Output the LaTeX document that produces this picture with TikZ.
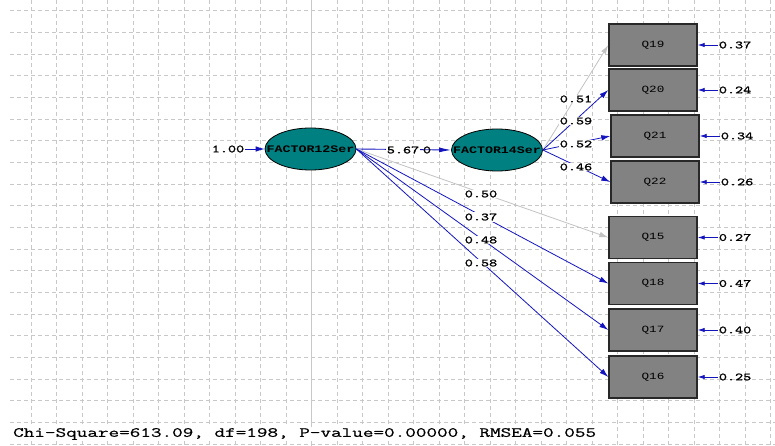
\documentclass[tikz,border=0pt]{standalone}
\usepackage{fontspec}
\usetikzlibrary{shapes.geometric,arrows.meta,positioning}
\newfontfamily\lisfont[FakeStretch=1.33]{Liberation Mono}
\newfontfamily\coeffont[FakeStretch=1.4,FakeBold=1.5]{Latin Modern Mono}
\newfontfamily\statfont[FakeStretch=1.47,FakeBold=0.8]{Latin Modern Mono}
\definecolor{listeal}{RGB}{0,128,128}
\definecolor{boxgray}{RGB}{130,130,130}
\definecolor{boxline}{RGB}{40,40,40}
\definecolor{pathblue}{RGB}{20,20,190}
\definecolor{pathgray}{RGB}{195,195,195}
\definecolor{gridgray}{RGB}{200,200,200}

\begin{document}
\begin{tikzpicture}[x=1pt,y=-1pt,
  gridline/.style={draw=gridgray,line width=0.6pt,dash pattern=on 4pt off 3pt},
  latent/.style={ellipse,draw=black,line width=0.8pt,fill=listeal,
    minimum width=91pt,minimum height=42pt,inner sep=0pt},
  latentlab/.style={inner sep=0pt,font=\lisfont\bfseries\fontsize{10}{12}\selectfont},
  observed/.style={rectangle,draw=boxline,line width=1.4pt,fill=boxgray,
    minimum width=88pt,minimum height=42pt,inner sep=0pt,
    font=\lisfont\fontsize{9.5}{11}\selectfont},
  loading/.style={draw=pathblue,line width=0.8pt,-{Latex[length=9pt,width=5.5pt]}},
  greyloading/.style={loading,draw=pathgray},
  errarrow/.style={draw=pathblue,line width=0.9pt,-{Latex[length=7pt,width=4.5pt]}},
  coef/.style={fill=white,inner sep=1pt,font=\coeffont\fontsize{11}{12}\selectfont},
  errlab/.style={inner sep=1pt,font=\coeffont\fontsize{11}{12}\selectfont},
  stat/.style={fill=white,inner sep=1pt,font=\statfont\fontsize{14}{16}\selectfont}]
\useasboundingbox (0,0) rectangle (775,446);
\fill[white] (0,0) rectangle (775,446);
% background grid
\foreach \gx in {0,...,29}
  \draw[gridline] ({31+25.5*\gx},0) -- ({31+25.5*\gx},446);
\foreach \gy in {0,...,20}
  \draw[gridline] (10,{10.7+21.67*\gy}) -- (775,{10.7+21.67*\gy});
\draw[draw=gridgray,line width=0.8pt] (311.5,0) -- (311.5,446);
% latent variables
\node[latent] (f12) at (310.5,149) {};
\node[latent] (f14) at (497,150) {};
% observed variables
\node[observed] (Q19) at (653,45) {Q19};
\node[observed] (Q20) at (653,90) {Q20};
\node[observed] (Q21) at (655,136) {Q21};
\node[observed] (Q22) at (655,182) {Q22};
\node[observed] (Q15) at (653,237.5) {Q15};
\node[observed] (Q18) at (653,283.5) {Q18};
\node[observed] (Q17) at (653,330) {Q17};
\node[observed] (Q16) at (653,377) {Q16};
% error variances
\node[errlab,right=20pt of Q19] (e19) {0.37};
\node[errlab,right=20pt of Q20] (e20) {0.24};
\node[errlab,right=20pt of Q21] (e21) {0.34};
\node[errlab,right=20pt of Q22] (e22) {0.26};
\node[errlab,right=20pt of Q15] (e15) {0.27};
\node[errlab,right=20pt of Q18] (e18) {0.47};
\node[errlab,right=20pt of Q17] (e17) {0.40};
\node[errlab,right=20pt of Q16] (e16) {0.25};
\draw[errarrow] (e19.west) -- (Q19.east);
\draw[errarrow] (e20.west) -- (Q20.east);
\draw[errarrow] (e21.west) -- (Q21.east);
\draw[errarrow] (e22.west) -- (Q22.east);
\draw[errarrow] (e15.west) -- (Q15.east);
\draw[errarrow] (e18.west) -- (Q18.east);
\draw[errarrow] (e17.west) -- (Q17.east);
\draw[errarrow] (e16.west) -- (Q16.east);
% paths
\node[coef] (v12) at (228,149) {1.00};
\draw[loading] (v12.east) -- (f12.west);
\draw[draw=pathblue,line width=0.9pt,-{Latex[length=12pt,width=5pt]}] (f12.east) -- (f14.west);
\draw[greyloading] (f14.east) -- (Q19.west);
\draw[loading] (f14.east) -- (Q20.west);
\draw[loading] (f14.east) -- (Q21.west);
\draw[loading] (f14.east) -- (Q22.west);
\draw[greyloading] (f12.east) -- (Q15.west);
\draw[loading] (f12.east) -- (Q18.west);
\draw[loading] (f12.east) -- (Q17.west);
\draw[loading] (f12.east) -- (Q16.west);
% coefficients
\node[coef] (b14) at (403,150) {5.67};
\node[errlab] (t14) at (427,150) {0};
\node[coef] (l19) at (576,99) {0.51};
\node[coef] (l20) at (576,121) {0.59};
\node[coef] (l21) at (576,144) {0.52};
\node[coef] (l22) at (576,167) {0.46};
\node[coef] (l15) at (481,194) {0.50};
\node[coef] (l18) at (481,217) {0.37};
\node[coef] (l17) at (481,240) {0.48};
\node[coef] (l16) at (481,263) {0.58};
% latent labels
\node[latentlab] at (f12) {FACTOR12Ser};
\node[latentlab] at (f14) {FACTOR14Ser};
% fit statistics
\node[stat,anchor=west] (fit) at (12,434) {Chi-Square=613.09, df=198, P-value=0.00000, RMSEA=0.055};
\end{tikzpicture}
\end{document}
